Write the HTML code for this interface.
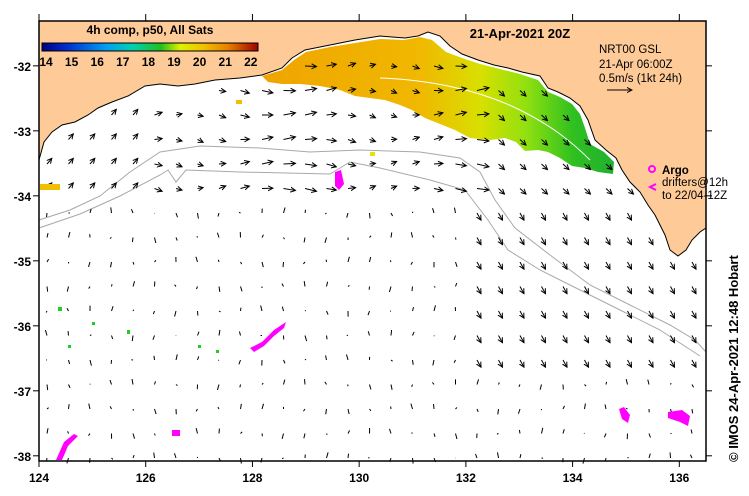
<!DOCTYPE html>
<html><head><meta charset="utf-8"><style>
html,body{margin:0;padding:0;background:#fff;}
svg{display:block;font-family:"Liberation Sans",Arial,sans-serif;}
</style></head><body>
<svg id="map" width="749" height="496" viewBox="0 0 749 496" xmlns="http://www.w3.org/2000/svg">
<defs>
<linearGradient id="cbar" x1="0" x2="1" y1="0" y2="0">
<stop offset="0" stop-color="#000080"/><stop offset="0.12" stop-color="#0030d0"/><stop offset="0.3" stop-color="#00a0f0"/><stop offset="0.42" stop-color="#00d0b0"/><stop offset="0.55" stop-color="#20c020"/><stop offset="0.64" stop-color="#e0f000"/><stop offset="0.75" stop-color="#f0c000"/><stop offset="0.86" stop-color="#e88000"/><stop offset="1" stop-color="#a00000"/>
</linearGradient>
<linearGradient id="sst" x1="262" x2="615" y1="0" y2="0" gradientUnits="userSpaceOnUse">
<stop offset="0" stop-color="#f0a400"/><stop offset="0.45" stop-color="#f0b800"/><stop offset="0.62" stop-color="#d8e000"/><stop offset="0.75" stop-color="#90e010"/><stop offset="0.88" stop-color="#30c020"/><stop offset="1" stop-color="#20b030"/>
</linearGradient>
<marker id="ah" markerWidth="6" markerHeight="6" refX="5" refY="3" orient="auto" markerUnits="userSpaceOnUse"><path d="M0,0.5 L5,3 L0,5.5" fill="none" stroke="#000" stroke-width="1"/></marker>
</defs>
<rect x="0" y="0" width="749" height="496" fill="#fff"/>
<g>
<path d="M39,21 L706,21 L706,228 L700,232 L692,240 L686,250 L678,256 L670,250 L665,235 L660,225 L655,215 L648,205 L640,192 L630,182 L622,170 L616,158 L606,150 L595,140 L588,120 L580,106 L570,98 L558,92 L548,88 L540,76 L522,72 L508,68 L494,65 L478,60 L462,54 L450,46 L440,36 L428,32 L418,36 L405,38 L380,36 L355,40 L330,45 L305,50 L292,58 L282,68 L262,75 L240,78 L215,80 L195,84 L178,86 L160,84 L145,86 L128,96 L112,102 L98,108 L88,115 L75,122 L62,125 L52,132 L44,142 L39,160 Z" fill="#fecb98" stroke="#000" stroke-width="1"/>
</g>
<path d="M262,76 L282,70 L294,60 L306,52 L330,47 L355,43 L380,39 L404,40 L420,37 L432,40 L446,52 L462,58 L480,64 L500,69 L520,74 L538,80 L548,92 L560,97 L572,104 L580,114 L585,128 L590,144 L604,152 L614,162 L613,174 L598,172 L585,168 L572,166 L560,158 L548,152 L538,150 L525,151 L516,142 L505,138 L490,140 L470,138 L455,130 L440,124 L425,118 L412,110 L400,105 L385,100 L370,98 L355,96 L340,90 L320,86 L300,84 L282,84 L268,82 Z" fill="url(#sst)"/>
<path d="M380,78 C430,80 480,90 520,110 C550,125 570,140 590,160" fill="none" stroke="#fff" stroke-width="1"/>
<g fill="none" stroke="#a8a8a8" stroke-width="1">
<path d="M39,220 L70,210 L100,196 L130,172 L160,152 L200,146 L260,148 L310,152 L360,150 L420,152 L460,158 L480,172 L495,200 L515,228 L550,255 L590,285 L630,305 L670,325 L695,340 L706,352"/>
<path d="M39,228 L80,214 L120,196 L160,175 L168,170 L176,182 L186,170 L240,172 L330,174 L350,162 L380,168 L430,180 L465,190 L488,220 L508,250 L540,270 L580,290 L620,310 L660,330 L700,356"/>
</g>
<g id="arrows"></g>
<g fill="#ff00ff">
<path d="M335,172 l6,-2 l3,14 l-5,6 l-4,-4 z"/>
<path d="M250,348 l12,-6 l12,-12 l12,-8 l-2,6 l-10,8 l-10,10 l-10,6 z"/>
<path d="M56,460 l8,-18 l10,-8 l4,2 l-10,10 l-6,14 z"/>
<rect x="172" y="430" width="8" height="6"/>
<path d="M619,409 l5,-2 l6,8 l-2,8 l-6,-4 z"/>
<path d="M668,412 l14,-2 l8,6 l-2,10 l-8,-4 l-12,-4 z"/>
<circle cx="652" cy="169" r="3" fill="none" stroke="#ff00ff" stroke-width="2"/>
<path d="M656,184 l-6,3 l6,3" fill="none" stroke="#ff00ff" stroke-width="2"/>
</g>
<g fill="#20d020">
<rect x="58" y="307" width="4" height="4"/><rect x="92" y="322" width="3" height="3"/><rect x="68" y="345" width="3" height="3"/><rect x="127" y="330" width="3" height="4"/><rect x="198" y="345" width="3" height="3"/><rect x="216" y="350" width="3" height="3"/>
<rect x="40" y="184" width="20" height="6" fill="#f0c000"/><rect x="236" y="100" width="6" height="4" fill="#f0c000"/><rect x="370" y="152" width="5" height="4" fill="#e8e000"/>
</g>
<rect x="39" y="21" width="667" height="440" fill="none" stroke="#000" stroke-width="1.5"/>
<g id="axes" font-size="12" font-weight="bold" fill="#000"></g>
<g>
<text x="150" y="34" font-size="12" font-weight="bold" text-anchor="middle">4h comp, p50, All Sats</text>
<rect x="42" y="43" width="216" height="8" fill="url(#cbar)" stroke="#000" stroke-width="1"/>
<g id="cbticks" font-size="12" font-weight="bold" text-anchor="middle"></g>
</g>
<text x="520" y="38" font-size="13" font-weight="bold" text-anchor="middle">21-Apr-2021 20Z</text>
<g font-size="11.5">
<text x="599" y="53">NRT00 GSL</text><text x="599" y="68">21-Apr 06:00Z</text><text x="599" y="82">0.5m/s (1kt 24h)</text>
<line x1="607" y1="90" x2="632" y2="90" stroke="#000" marker-end="url(#ah)"/>
</g>
<g font-size="11.5">
<text x="662" y="174" font-weight="bold">Argo</text><text x="662" y="186">drifters@12h</text><text x="662" y="199">to 22/04-12Z</text>
</g>
<text transform="translate(738,462) rotate(-90)" font-size="13" font-weight="bold">© IMOS 24-Apr-2021 12:48 Hobart</text>
</svg>
<script>
const xTicks=[124,126,128,130,132,134,136];
const yTicks=[-32,-33,-34,-35,-36,-37,-38];
const cbLabels=[14,15,16,17,18,19,20,21,22];
const lonMin=124, lonMax=136.5, latTop=-31.31, latBot=-38.08;
function X(lon){return 39+(lon-lonMin)/(lonMax-lonMin)*667;}
function Y(lat){return 21+(latTop-lat)/(latTop-latBot)*440;}
const NS="http://www.w3.org/2000/svg";
const ax=document.getElementById('axes');
xTicks.forEach(v=>{
 const l=document.createElementNS(NS,'line');l.setAttribute('x1',X(v));l.setAttribute('x2',X(v));l.setAttribute('y1',461);l.setAttribute('y2',467);l.setAttribute('stroke','#000');
 
 ax.appendChild(l);
 const l2=document.createElementNS(NS,'line');l2.setAttribute('x1',X(v));l2.setAttribute('x2',X(v));l2.setAttribute('y1',14);l2.setAttribute('y2',21);l2.setAttribute('stroke','#000');
 
 ax.appendChild(l2);
 const t=document.createElementNS(NS,'text');t.setAttribute('x',X(v));t.setAttribute('y',482);t.setAttribute('text-anchor','middle');t.textContent=v;
 
 ax.appendChild(t);
});
yTicks.forEach(v=>{
 const l=document.createElementNS(NS,'line');l.setAttribute('x1',33);l.setAttribute('x2',39);l.setAttribute('y1',Y(v));l.setAttribute('y2',Y(v));l.setAttribute('stroke','#000');
 
 ax.appendChild(l);
 const l2=document.createElementNS(NS,'line');l2.setAttribute('x1',706);l2.setAttribute('x2',712);l2.setAttribute('y1',Y(v));l2.setAttribute('y2',Y(v));l2.setAttribute('stroke','#000');
 
 ax.appendChild(l2);
 const t=document.createElementNS(NS,'text');t.setAttribute('x',31);t.setAttribute('y',Y(v)+5);t.setAttribute('text-anchor','end');t.textContent=v;
 
 ax.appendChild(t);
});
const cb=document.getElementById('cbticks');
cbLabels.forEach((v,i)=>{
 const t=document.createElementNS(NS,'text');t.setAttribute('x',46+i*25.6);t.setAttribute('y',66);t.textContent=v;
 
 cb.appendChild(t);
});
const ag=document.getElementById('arrows');
const coast=[[39,160],[60,126],[100,107],[160,84],[200,83],[262,75],[305,50],[380,36],[430,32],[462,54],[540,76],[580,106],[595,140],[622,170],[648,205],[670,250],[706,228]];
function inLand(x,y){
 for(let i=0;i<coast.length-1;i++){const a=coast[i],b=coast[i+1];if(x>=a[0]&&x<=b[0]){const cy=a[1]+(b[1]-a[1])*(x-a[0])/(b[0]-a[0]);return y<cy+8;}}
 return false;
}
for(let gy=0;gy<17;gy++){
 for(let gx=0;gx<31;gx++){
  const x=47+gx*21.5, y=66+gy*24.5;
  if(inLand(x,y)||x>700) continue;
  let u,v,head=true;
  if(y<200){u=0.22+0.08*Math.sin(gx*0.7);v=0.07*Math.cos(gx*0.9+gy);if(x<140){u=0.12;v=0.14;}if(x>480){u=0.15;v=-0.14;}}
  else if(x>470&&y<380){u=0.1;v=-0.18;}
  else {u=0.04*Math.sin(gx*1.3+gy);v=0.14*Math.cos(gx*0.8+gy*1.7);head=false;}
  const s=40;
  const l=document.createElementNS(NS,'line');
  l.setAttribute('x1',x);l.setAttribute('y1',y);l.setAttribute('x2',x+u*s);l.setAttribute('y2',y-v*s);
  l.setAttribute('stroke','#000');l.setAttribute('stroke-width','1');
  if(head&&Math.hypot(u,v)>0.12) l.setAttribute('marker-end','url(#ah)');
  
  
  ag.appendChild(l);
 }
}
</script>
</body></html>
